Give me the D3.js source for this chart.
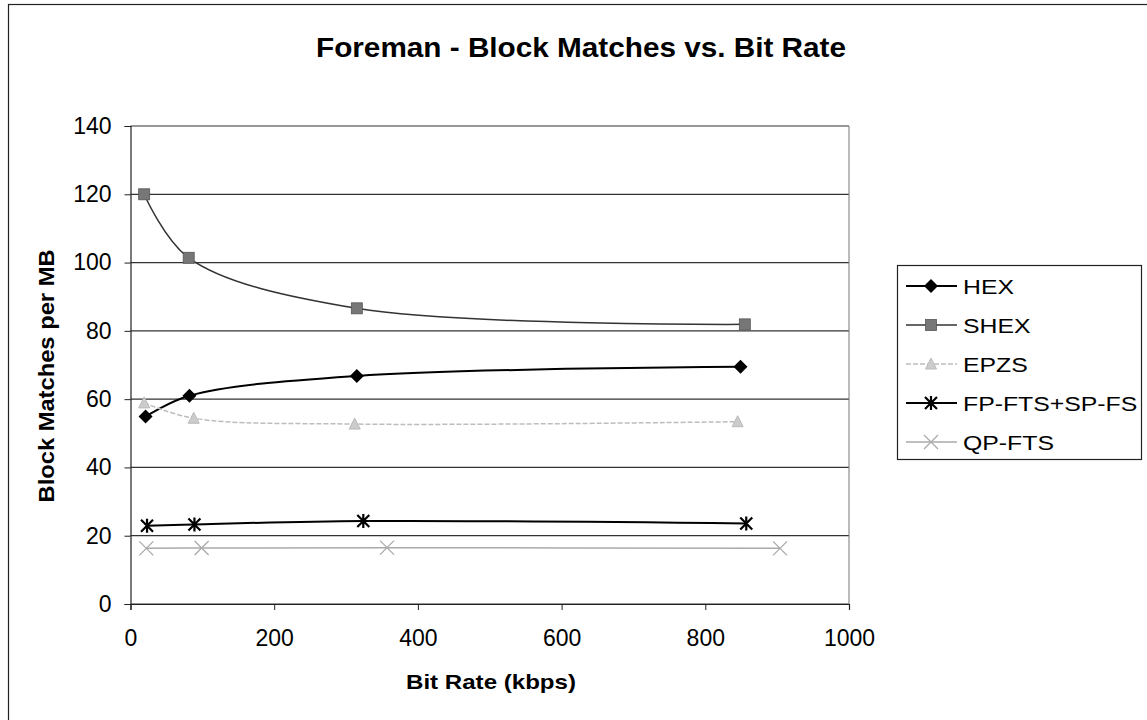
<!DOCTYPE html>
<html>
<head>
<meta charset="utf-8">
<script src="https://cdn.jsdelivr.net/npm/d3@7"></script>
<style>
  body { margin: 0; background: #fff; }
  text { font-family: "Liberation Sans", Arial, sans-serif; }
</style>
</head>
<body>
<svg id="chart" width="1147" height="720"></svg>
<script>
// data
var seriesNames = ["HEX", "SHEX", "EPZS", "FP-FTS+SP-FS", "QP-FTS"];
var hexX = [21, 82, 315, 849];
var hexY = [54.9, 61.0, 66.8, 69.5];
var shexX = [19, 81, 315, 855];
var shexY = [120.0, 101.4, 86.6, 81.9];
var epzsX = [19, 88, 312, 845];
var epzsY = [58.9, 54.4, 52.7, 53.4];
var fpX = [23, 89, 324, 857];
var fpY = [22.9, 23.3, 24.3, 23.6];
var qpX = [22, 99, 357, 904];
var qpY = [16.3, 16.4, 16.5, 16.3];
var xTicks = [0, 200, 400, 600, 800, 1000];
var yTicks = [0, 20, 40, 60, 80, 100, 120, 140];

var svg = d3.select("#chart");

// outer chart border
svg.append("rect")
   .attr("x", 8.5).attr("y", 4.5)
   .attr("width", 1160).attr("height", 740)
   .attr("fill", "none").attr("stroke", "#222").attr("stroke-width", 1.2);

var plotL = 130.5, plotR = 849, plotT = 126, plotB = 604;

var x = d3.scaleLinear().domain([0, 1000]).range([plotL, plotR]);
var y = d3.scaleLinear().domain([0, 140]).range([plotB, plotT]);

// gridlines
svg.append("g")
   .selectAll("line")
   .data(yTicks)
   .enter()
   .append("line")
   .attr("x1", plotL).attr("x2", plotR)
   .attr("y1", function(d) { return y(d); })
   .attr("y2", function(d) { return y(d); })
   .attr("stroke", "#333").attr("stroke-width", 1.2);

// right edge of plot area
svg.append("line")
   .attr("x1", plotR).attr("x2", plotR).attr("y1", plotT).attr("y2", plotB)
   .attr("stroke", "#777").attr("stroke-width", 1);

// axes
var yAxis = svg.append("g")
   .attr("transform", "translate(" + plotL + ",0)")
   .call(d3.axisLeft(y).tickValues(yTicks).tickSize(6).tickPadding(13));
var xAxis = svg.append("g")
   .attr("transform", "translate(0," + plotB + ")")
   .call(d3.axisBottom(x).tickValues(xTicks).tickFormat(d3.format("d")).tickSize(6).tickPadding(20));

[yAxis, xAxis].forEach(function(a) {
	a.selectAll("text").attr("font-size", "23px").attr("fill", "#000")
	 .attr("font-family", "'Liberation Sans', Arial, sans-serif");
	a.selectAll("line").attr("stroke", "#222");
	a.select(".domain").attr("stroke", "#222").attr("stroke-width", 1.2);
});

// series
var series = [
	{name: seriesNames[0], xs: hexX, ys: hexY, color: "#000", width: 2, dash: null, marker: "diamond", mfill: "#000"},
	{name: seriesNames[1], xs: shexX, ys: shexY, color: "#333", width: 1.5, dash: null, marker: "square", mfill: "#777"},
	{name: seriesNames[2], xs: epzsX, ys: epzsY, color: "#bdbdbd", width: 1.5, dash: "5,2", marker: "triangle", mfill: "#ccc"},
	{name: seriesNames[3], xs: fpX, ys: fpY, color: "#000", width: 2, dash: null, marker: "asterisk", mfill: "#000"},
	{name: seriesNames[4], xs: qpX, ys: qpY, color: "#aaa", width: 1.5, dash: null, marker: "cross", mfill: "#aaa"}
];

var line = d3.line()
	.x(function(d) { return x(d[0]); })
	.y(function(d) { return y(d[1]); })
	.curve(d3.curveCatmullRom.alpha(0.5));

function drawMarker(g, type, cx, cy, fill, stroke) {
	if (type == "diamond") {
		g.append("path").attr("d", "M" + cx + "," + (cy - 7) + "L" + (cx + 7) + "," + cy + "L" + cx + "," + (cy + 7) + "L" + (cx - 7) + "," + cy + "Z")
		 .attr("fill", fill);
	} else if (type == "square") {
		g.append("rect").attr("x", cx - 5.5).attr("y", cy - 5.5).attr("width", 11).attr("height", 11)
		 .attr("fill", fill).attr("stroke", "#555").attr("stroke-width", 0.8);
	} else if (type == "triangle") {
		g.append("path").attr("d", "M" + cx + "," + (cy - 6) + "L" + (cx + 5.5) + "," + (cy + 5) + "L" + (cx - 5.5) + "," + (cy + 5) + "Z")
		 .attr("fill", fill).attr("stroke", "#bbb");
	} else if (type == "asterisk") {
		var s = 6;
		g.append("path").attr("d",
			"M" + (cx - s) + "," + (cy - s) + "L" + (cx + s) + "," + (cy + s) +
			"M" + (cx + s) + "," + (cy - s) + "L" + (cx - s) + "," + (cy + s) +
			"M" + cx + "," + (cy - s - 1) + "L" + cx + "," + (cy + s + 1))
		 .attr("stroke", stroke).attr("stroke-width", 2.2);
	} else if (type == "cross") {
		var c = 7;
		g.append("path").attr("d",
			"M" + (cx - c) + "," + (cy - c) + "L" + (cx + c) + "," + (cy + c) +
			"M" + (cx + c) + "," + (cy - c) + "L" + (cx - c) + "," + (cy + c))
		 .attr("stroke", stroke).attr("stroke-width", 1.3);
	}
}

series.forEach(function(s) {
	var pts = s.xs.map(function(v, i) { return [v, s.ys[i]]; });
	var g = svg.append("g");
	g.append("path")
	 .attr("d", line(pts))
	 .attr("fill", "none")
	 .attr("stroke", s.color)
	 .attr("stroke-width", s.width)
	 .attr("stroke-dasharray", s.dash);
	pts.forEach(function(p) {
		drawMarker(g, s.marker, x(p[0]), y(p[1]), s.mfill, s.color);
	});
});

// title (centred on the whole chart area)
svg.append("text")
   .attr("x", 581).attr("y", 57)
   .attr("text-anchor", "middle")
   .attr("font-size", "28px").attr("font-weight", "bold")
   .attr("textLength", 530).attr("lengthAdjust", "spacingAndGlyphs")
   .text("Foreman - Block Matches vs. Bit Rate");

// axis titles
svg.append("text")
   .attr("x", 491).attr("y", 689)
   .attr("text-anchor", "middle")
   .attr("font-size", "21px").attr("font-weight", "bold")
   .attr("textLength", 170).attr("lengthAdjust", "spacingAndGlyphs")
   .text("Bit Rate (kbps)");

svg.append("text")
   .attr("transform", "translate(54,376) rotate(-90)")
   .attr("text-anchor", "middle")
   .attr("font-size", "22px").attr("font-weight", "bold")
   .attr("textLength", 253).attr("lengthAdjust", "spacingAndGlyphs")
   .text("Block Matches per MB");

// legend
var legend = svg.append("g");
legend.append("rect")
   .attr("x", 897.5).attr("y", 265.5)
   .attr("width", 244).attr("height", 194)
   .attr("fill", "#fff").attr("stroke", "#222").attr("stroke-width", 1.2);

series.forEach(function(s, i) {
	var ly = 286 + i * 39;
	legend.append("line")
	   .attr("x1", 906).attr("x2", 957).attr("y1", ly).attr("y2", ly)
	   .attr("stroke", s.color).attr("stroke-width", s.width)
	   .attr("stroke-dasharray", s.dash);
	drawMarker(legend, s.marker, 931, ly, s.mfill, s.color);
	var t = legend.append("text")
	   .attr("x", 963).attr("y", ly + 7.5)
	   .attr("font-size", "20px")
	   .text(s.name);
	// the legend labels are drawn a bit wider than normal
	var w = t.node().getComputedTextLength();
	t.attr("textLength", w * 1.24).attr("lengthAdjust", "spacingAndGlyphs");
});
</script>
</body>
</html>
